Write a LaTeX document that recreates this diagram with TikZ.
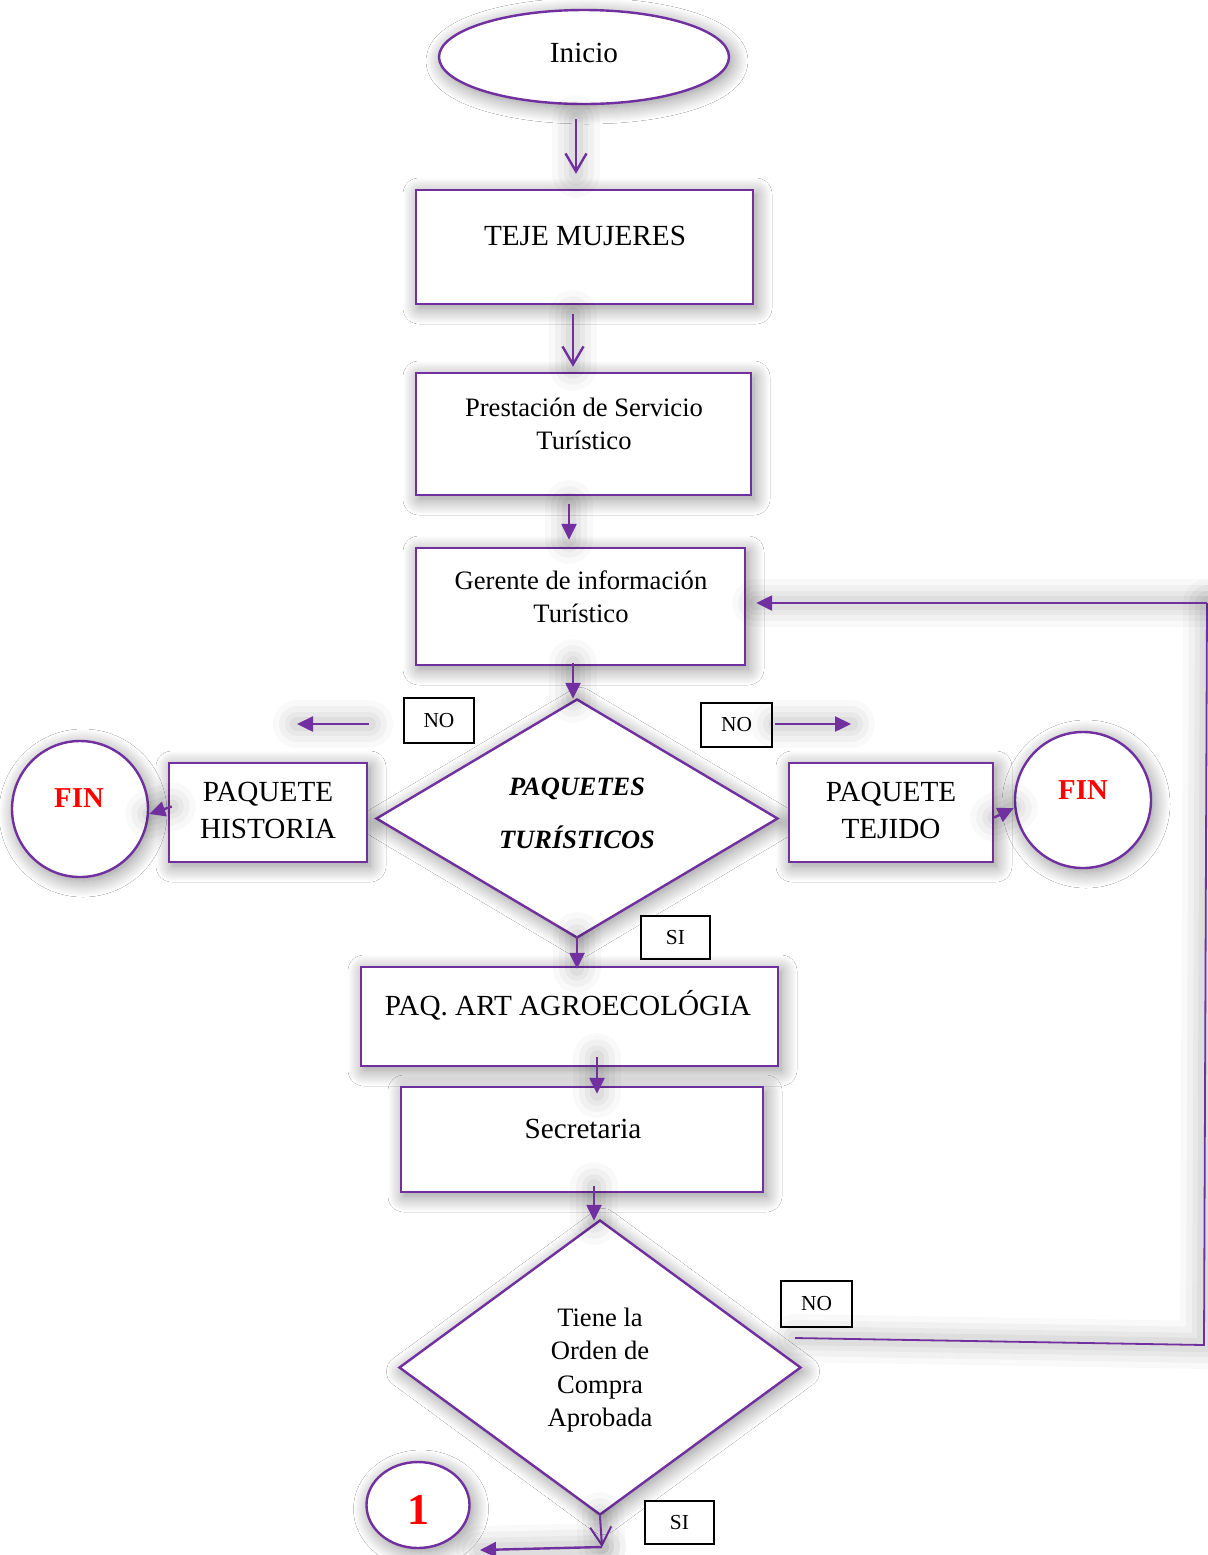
\documentclass[tikz,border=0pt]{standalone}
\usepackage{fontspec}
\setmainfont{Liberation Serif}
\usetikzlibrary{shapes.geometric,arrows.meta,shadows.blur,calc}
\definecolor{vio}{RGB}{112,48,160}

\begin{document}
\begin{tikzpicture}[x=0.5pt,y=-0.5pt,
  soft/.style={blur shadow={shadow xshift=1.5pt,shadow yshift=-2pt,
      shadow blur radius=8pt,shadow blur steps=16,shadow opacity=45}},
  shape base/.style={draw=vio,line width=1.2pt,fill=white,soft,inner sep=0pt},
  rbox/.style={shape base,rectangle},
  ebox/.style={shape base,ellipse},
  cbox/.style={shape base,circle},
  dbox/.style={shape base,diamond,aspect=1},
  tag/.style={draw=black,line width=0.6pt,fill=white,rectangle,inner sep=0pt,
      font=\fontsize{10.7}{12}\selectfont},
  big/.style={font=\fontsize{14.6}{18.5}\selectfont,align=center},
  mid/.style={font=\fontsize{13.3}{16.8}\selectfont,align=center},
  fin/.style={font=\fontsize{14.4}{16}\selectfont\bfseries,text=red},
  halo/.style={preaction={draw=black,opacity=0.025,line width=24pt,arrows=-,line cap=round},
               preaction={draw=black,opacity=0.03,line width=18pt,arrows=-,line cap=round},
               preaction={draw=black,opacity=0.035,line width=12pt,arrows=-,line cap=round},
               preaction={draw=black,opacity=0.04,line width=7pt,arrows=-,line cap=round}},
  link/.style={draw=vio,line width=1.2pt,halo},
  barb/.style={link,-{Straight Barb[length=9pt,width=10.5pt]}},
  tri/.style={link,-{Triangle[length=8pt,width=7.5pt]}},
]
\fill[white] (0,0) rectangle (1208,1555);
\useasboundingbox (0,0) rectangle (1208,1555);

% main column of steps
\node[ebox,minimum width=145pt,minimum height=47pt] (inicio) at (584,57) {};
\node[big] (inicio-t) at (584,53) {Inicio};

\node[rbox,minimum width=168.5pt,minimum height=57pt] (teje) at (584.5,247) {};
\node[big] (teje-t) at (585,236) {TEJE MUJERES};

\node[rbox,minimum width=167.5pt,minimum height=61pt] (prest) at (583.5,434) {};
\node[mid] (prest-t) at (584,424) {Prestación de Servicio\\Turístico};

\node[rbox,minimum width=164.5pt,minimum height=58.5pt] (ger) at (580.5,606.5) {};
\node[mid,font=\fontsize{13.3}{16.5}\selectfont] (ger-t) at (581,596.5) {Gerente de información\\Turístico};

% package decision
\node[dbox,minimum width=201pt,minimum height=119.5pt] (paq) at (577,818.5) {};
\node[align=center,font=\fontsize{13.2}{26.5}\selectfont\bfseries\itshape] (paq-t) at (577,813) {PAQUETES\\TURÍSTICOS};

\node[rbox,minimum width=99pt,minimum height=49.5pt] (hist) at (268,812.5) {};
\node[big] (hist-t) at (268,810.5) {PAQUETE\\HISTORIA};
\node[rbox,minimum width=102pt,minimum height=49.5pt] (tej) at (891,812.5) {};
\node[big] (tej-t) at (891,810.5) {PAQUETE\\TEJIDO};

\node[cbox,minimum size=68pt] (fin1) at (80,809) {};
\node[fin] (fin1-t) at (79,798) {FIN};
\node[cbox,minimum size=68pt] (fin2) at (1083,800) {};
\node[fin] (fin2-t) at (1083,790) {FIN};

\node[tag,minimum width=35pt,minimum height=22.5pt] (noA) at (439,720.5) {NO};
\node[tag,minimum width=35.5pt,minimum height=22pt] (noB) at (736.5,725) {NO};
\node[tag,minimum width=34.5pt,minimum height=21.5pt] (siA) at (675.5,937.5) {SI};

\node[rbox,minimum width=208.5pt,minimum height=49.5pt] (art) at (569.5,1016.5) {};
\node[big] (art-t) at (568,1005) {PAQ. ART AGROECOLÓGIA};

\node[rbox,minimum width=181pt,minimum height=52.5pt] (sec) at (582,1139.5) {};
\node[big] (sec-t) at (583,1129) {Secretaria};

% purchase order decision
\node[dbox,minimum width=201pt,minimum height=147.5pt] (orden) at (600,1367.5) {};
\node[mid,font=\fontsize{13.3}{16.7}\selectfont] (orden-t) at (600,1370) {Tiene la\\Orden de\\Compra\\Aprobada};

\node[tag,minimum width=35.5pt,minimum height=23pt] (noC) at (816.5,1304) {NO};
\node[tag,minimum width=34.5pt,minimum height=21.5pt] (siB) at (679.5,1522.5) {SI};

\node[ebox,minimum width=51.5pt,minimum height=43pt] (uno) at (418,1505) {};
\node[font=\fontsize{22}{24}\selectfont\bfseries,text=red] (uno-t) at (418,1510) {1};

% free ends of the open connectors
\coordinate (nl1) at (369,724);
\coordinate (nl2) at (297,724);
\coordinate (nr1) at (775,724);
\coordinate (nr2) at (851,724);
\coordinate (r0) at (795,1338);
\coordinate (r1) at (1204,1345);
\coordinate (r2) at (1207,603);
\coordinate (bend) at (602,1547);
\coordinate (toone) at (480,1550);

% connectors
\draw[barb] ($(inicio.south)+(-8,14)$) -- ($(teje.north)+(-8.5,-15)$);
\draw[barb] ($(teje.south)+(-11.5,9)$) -- ($(prest.north)+(-10.5,-5)$);
\draw[tri] ($(prest.south)+(-14.5,8)$) -- ($(ger.north)+(-11.5,-7)$);
\draw[tri] ($(ger.south)+(-7.5,-3)$) -- ($(paq.north)+(-4,1)$);
\draw[tri] ($(paq.south)+(0,-3)$) -- ($(art.north)+(7.5,3)$);
\draw[tri] ($(art.south)+(27.5,-10)$) -- ($(sec.north)+(15,8)$);
\draw[tri] ($(sec.south)+(12,-7)$) -- ($(orden.north)+(-6,2)$);

\draw[tri] (nl1) -- (nl2);
\draw[tri] (nr1) -- (nr2);
\draw[tri] ($(hist.west)+(4,-6)$) -- ($(fin1.east)+(0,5)$);
\draw[tri] ($(tej.east)+(0,5)$) -- ($(fin2.west)+(0,8)$);

\draw[link,line width=0.9pt] (r0) -- (r1) -- (r2);
\draw[tri] (r2) -- ($(ger.east)+(10,-3.5)$);

\draw[barb,line width=1pt] (orden.south) -- (bend);
\draw[tri] (bend) -- (toone);
\end{tikzpicture}
\end{document}
